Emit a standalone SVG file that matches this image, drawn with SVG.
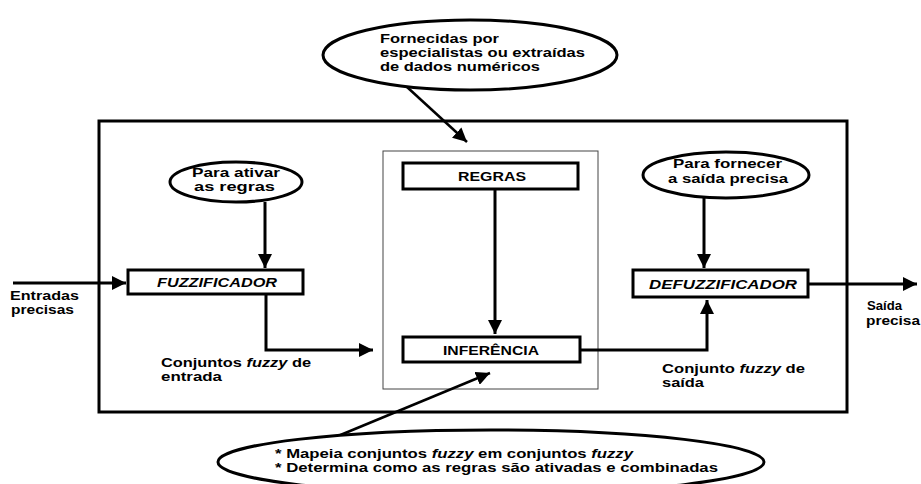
<svg xmlns="http://www.w3.org/2000/svg" width="921" height="484" viewBox="0 0 921 484">
<defs>
<style>
text{font-family:"Liberation Sans",Arial,sans-serif;font-weight:bold;font-size:12px;fill:#000}
.it{font-style:italic}
.box{fill:#fff;stroke:#000;stroke-width:3}
.ell{fill:#fff;stroke:#000;stroke-width:3}
.ln{fill:none;stroke:#000;stroke-width:3}
.ptr{fill:none;stroke:#000;stroke-width:2.5}
</style>
<marker id="ah" viewBox="0 0 14 14" markerWidth="14" markerHeight="14" refX="14" refY="7" orient="auto" markerUnits="userSpaceOnUse">
<path d="M0,0 L14,7 L0,14 z" fill="#000"/>
</marker>
</defs>
<rect width="921" height="484" fill="#fff"/>
<g id="system">
<rect x="99" y="121" width="748" height="291" fill="none" stroke="#000" stroke-width="3"/>
</g>
<g id="core">
<rect x="383" y="151" width="215" height="238" fill="none" stroke="#444" stroke-width="1"/>
</g>
<g id="connectors">
<path class="ln" d="M13,283 L126,283" marker-end="url(#ah)"/>
<path class="ln" d="M265,202 L265,268" marker-end="url(#ah)"/>
<path class="ln" d="M266,294 L266,350 L373,350" marker-end="url(#ah)"/>
<path class="ln" d="M495,189 L495,334" marker-end="url(#ah)"/>
<path class="ln" d="M580,350 L707,350 L707,300" marker-end="url(#ah)"/>
<path class="ln" d="M704,198 L704,268" marker-end="url(#ah)"/>
<path class="ln" d="M808,284 L917,284" marker-end="url(#ah)"/>
<path class="ptr" d="M407,87 L467,142" marker-end="url(#ah)"/>
<path class="ptr" d="M338,436 L490,373" marker-end="url(#ah)"/>
</g>
<g id="note-top">
<ellipse class="ell" cx="470" cy="55" rx="147" ry="35"/>
<text x="380" y="43" textLength="119" lengthAdjust="spacingAndGlyphs">Fornecidas por</text>
<text x="380" y="57" textLength="205" lengthAdjust="spacingAndGlyphs">especialistas ou extraídas</text>
<text x="380" y="71" textLength="160" lengthAdjust="spacingAndGlyphs">de dados numéricos</text>
</g>
<g id="note-left">
<ellipse class="ell" cx="236" cy="182" rx="66" ry="20"/>
<text x="192" y="177" textLength="88" lengthAdjust="spacingAndGlyphs">Para ativar</text>
<text x="194" y="191" textLength="81" lengthAdjust="spacingAndGlyphs">as regras</text>
</g>
<g id="note-right">
<ellipse class="ell" cx="726" cy="175" rx="83" ry="23"/>
<text x="673" y="168" textLength="109" lengthAdjust="spacingAndGlyphs">Para fornecer</text>
<text x="668" y="183" textLength="120" lengthAdjust="spacingAndGlyphs">a saída precisa</text>
</g>
<g id="note-bottom">
<ellipse class="ell" cx="491" cy="462" rx="273" ry="32"/>
<text x="275" y="458" textLength="358" lengthAdjust="spacingAndGlyphs">* Mapeia conjuntos <tspan class="it">fuzzy</tspan> em conjuntos <tspan class="it">fuzzy</tspan></text>
<text x="275" y="472" textLength="443" lengthAdjust="spacingAndGlyphs">* Determina como as regras são ativadas e combinadas</text>
</g>
<g id="fuzzificador">
<rect class="box" x="128" y="270" width="175" height="24"/>
<text class="it" x="157" y="287" textLength="120" lengthAdjust="spacingAndGlyphs">FUZZIFICADOR</text>
</g>
<g id="regras">
<rect class="box" x="403" y="163" width="175" height="26"/>
<text x="458" y="181" textLength="68" lengthAdjust="spacingAndGlyphs">REGRAS</text>
</g>
<g id="inferencia">
<rect class="box" x="403" y="337" width="177" height="25"/>
<text x="443" y="355" textLength="96" lengthAdjust="spacingAndGlyphs">INFERÊNCIA</text>
</g>
<g id="defuzzificador">
<rect class="box" x="633" y="270" width="175" height="27"/>
<text class="it" x="649" y="289" textLength="148" lengthAdjust="spacingAndGlyphs">DEFUZZIFICADOR</text>
</g>
<g id="labels">
<text x="10" y="300" textLength="69" lengthAdjust="spacingAndGlyphs">Entradas</text>
<text x="11" y="314" textLength="63" lengthAdjust="spacingAndGlyphs">precisas</text>
<text x="161" y="367" textLength="150" lengthAdjust="spacingAndGlyphs">Conjuntos <tspan class="it">fuzzy</tspan> de</text>
<text x="161" y="381" textLength="61" lengthAdjust="spacingAndGlyphs">entrada</text>
<text x="662" y="373" textLength="143" lengthAdjust="spacingAndGlyphs">Conjunto <tspan class="it">fuzzy</tspan> de</text>
<text x="662" y="387" textLength="42" lengthAdjust="spacingAndGlyphs">saída</text>
<text x="867" y="310" textLength="35" lengthAdjust="spacingAndGlyphs">Saída</text>
<text x="866" y="325" textLength="54" lengthAdjust="spacingAndGlyphs">precisa</text>
</g>
</svg>
